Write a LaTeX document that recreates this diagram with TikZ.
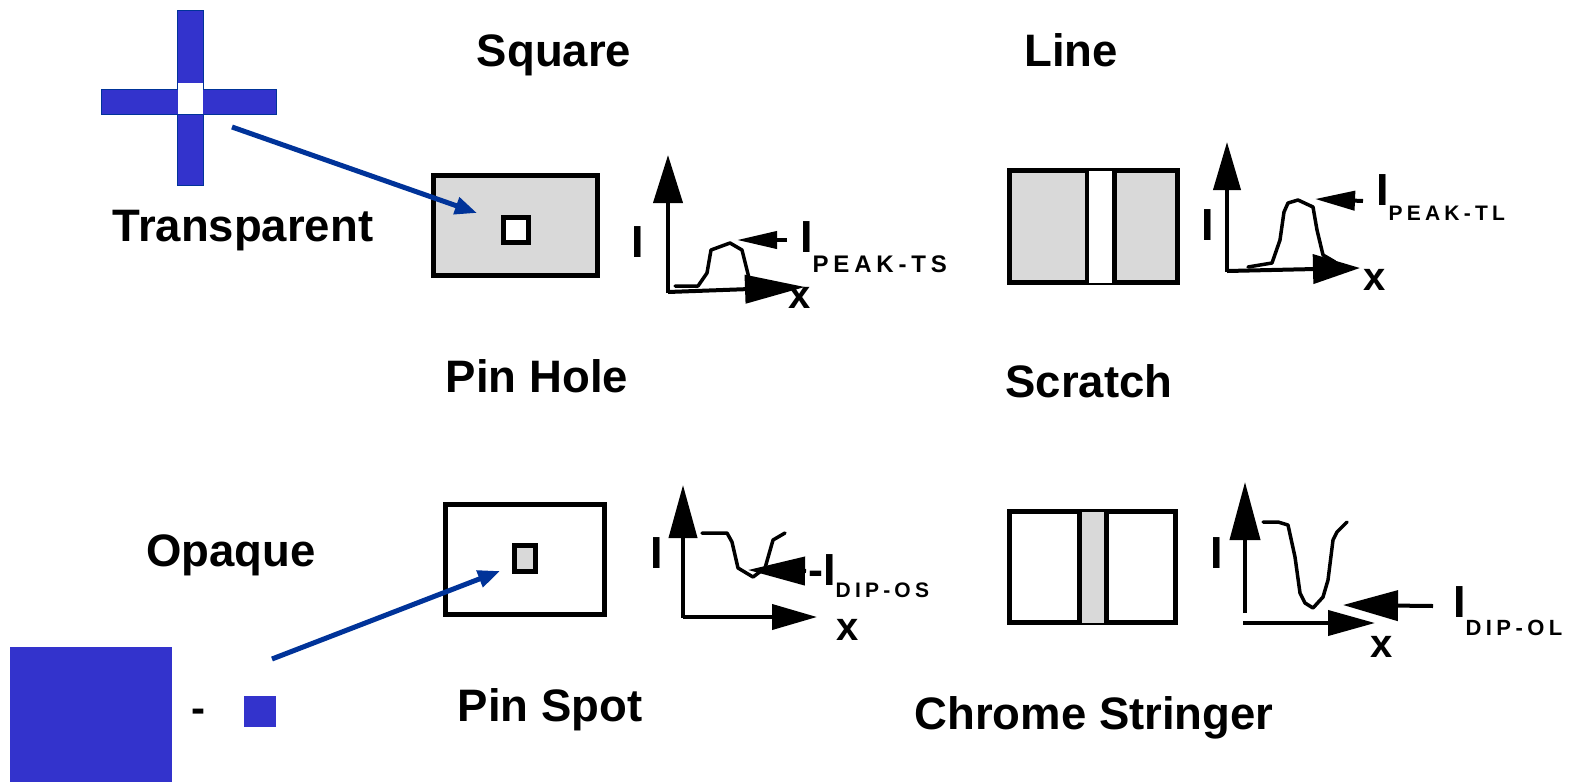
\documentclass[tikz,border=0pt]{standalone}
\usepackage{fontspec}
\setmainfont{Liberation Sans}
\newfontfamily\subfont[LetterSpace=20]{Liberation Sans}
\usetikzlibrary{arrows.meta}
\definecolor{crossblue}{HTML}{3333CC}
\definecolor{arrowblue}{HTML}{003399}
\definecolor{dotgray}{HTML}{D9D9D9}
\newcommand{\subtxt}[3]{\raisebox{-#1pt}{\fontsize{#2}{#2}\subfont\bfseries #3}}
\begin{document}
\begin{tikzpicture}[x=1pt,y=-1pt,
  title/.style={font=\fontsize{45.5}{46}\selectfont\bfseries, anchor=base, inner sep=0},
  axlabel/.style={font=\fontsize{45}{46}\selectfont\bfseries, anchor=base, inner sep=0},
  xlabel/.style={font=\fontsize{40}{40}\selectfont\bfseries, anchor=base, inner sep=0},
  intlabel/.style={font=\fontsize{45}{46}\selectfont\bfseries, anchor=base west, inner sep=0},
  axisline/.style={line width=4pt},
  curveline/.style={line width=3.5pt, line join=round, line cap=round},
  bluearrow/.style={draw=arrowblue, line width=5pt, -{Triangle[length=22pt,width=17pt]}},
  frame/.style={draw=black, line width=5pt},
  crossbar/.style={fill=crossblue, draw=arrowblue, line width=1pt},
  ]
\useasboundingbox (0,0) rectangle (1572,782);

% ---- transparent cross
\path[crossbar] (177,10) rectangle (203,185);
\path[crossbar] (101,89) rectangle (276,114);
\fill[white] (177.5,83) rectangle (202.5,114);

% ---- opaque squares
\fill[crossblue] (10,647) rectangle (172,782);
\node[font=\fontsize{42}{42}\selectfont\bfseries, anchor=base, inner sep=0] (dash) at (198,722) {-};
\fill[crossblue] (244,696) rectangle (276,727);

% ---- titles
\node[title] (tsquare) at (554,66) {Square};
\node[title] (tline) at (1071,66) {Line};
\node[title] (ttrans) at (243,241) {Transparent};
\node[title] (tpinhole) at (537,392) {Pin Hole};
\node[title] (tscratch) at (1089,397) {Scratch};
\node[title] (topaque) at (231,566) {Opaque};
\node[title] (tpinspot) at (550,721) {Pin Spot};
\node[title] (tchrome) at (1094,729) {Chrome Stringer};

% ---- square (pin hole) mask
\draw[frame, fill=dotgray] (433.5,175.5) rectangle (597.5,275.5);
\draw[line width=5pt, fill=white] (503.5,217.5) rectangle (528.5,242.5);
\coordinate (holec) at (477,213);

% ---- line (scratch) mask
\draw[frame, fill=dotgray] (1009.5,170.5) rectangle (1177.5,282.5);
\fill[white] (1087,170.5) rectangle (1114.5,282.5);
\draw[line width=4.5pt] (1087,170.5) -- (1087,282.5);
\draw[line width=4.5pt] (1114.5,170.5) -- (1114.5,282.5);

% ---- pin spot mask
\draw[frame, fill=white] (445.5,504.5) rectangle (604.5,614.5);
\draw[line width=5pt, fill=dotgray] (514.5,545.5) rectangle (535.5,571.5);
\coordinate (spotc) at (500,571);

% ---- chrome stringer mask
\draw[frame, fill=white] (1009.5,511.5) rectangle (1175.5,622.5);
\fill[dotgray] (1079.5,511.5) rectangle (1106.5,622.5);
\draw[line width=5pt] (1079.5,511.5) -- (1079.5,622.5);
\draw[line width=5pt] (1106.5,511.5) -- (1106.5,622.5);

% ---- blue pointers
\coordinate (crossend) at (232,127);
\coordinate (spotstart) at (272,659);
\draw[bluearrow] (crossend) -- (holec);
\draw[bluearrow] (spotstart) -- (spotc);

% ---- graph 1 : PEAK-TS
\coordinate (o1) at (668,293);
\draw[axisline, -{Triangle[length=48pt,width=29pt]}] (o1) -- (668,155);
\draw[axisline, -{Triangle[length=60pt,width=28pt]}] (668,292) -- (805,287);
\draw[curveline] (675,286) -- (698,286) -- (707,273) -- (711,250) -- (730,243) -- (742,250) -- (749,278);
\coordinate (pk1) at (737,240);
\draw[axisline, -{Triangle[length=40pt,width=17pt]}] (787,240) -- (pk1);
\node[axlabel] (i1) at (638,257) {I};
\node[xlabel] (x1) at (800,308) {x};
\node[intlabel] (ip1) at (800,252) {I\subtxt{20}{24}{PEAK-TS}};

% ---- graph 2 : PEAK-TL
\coordinate (o2) at (1227,272);
\draw[axisline, -{Triangle[length=48pt,width=27pt]}] (o2) -- (1227,142);
\draw[axisline, -{Triangle[length=47pt,width=29pt]}] (1227,271) -- (1360,268);
\draw[curveline] (1248,267) -- (1272,263) -- (1280,240) -- (1284,212) -- (1288,203) -- (1298,200) -- (1313,207) -- (1317,230) -- (1323,255) -- (1335,262);
\coordinate (pk2) at (1315,199);
\draw[axisline, -{Triangle[length=40pt,width=19pt]}] (1363,201) -- (pk2);
\node[axlabel] (i2) at (1208,240) {I};
\node[xlabel] (x2) at (1375,290) {x};
\node[intlabel] (ip2) at (1376,205) {I\subtxt{15}{21}{PEAK-TL}};

% ---- graph 3 : DIP-OS
\coordinate (o3) at (683,618);
\draw[axisline, -{Triangle[length=53pt,width=28pt]}] (o3) -- (683,485);
\draw[axisline, -{Triangle[length=45pt,width=25pt]}] (683,617) -- (817,617);
\draw[curveline] (702,533) -- (727,533) -- (732,542) -- (738,568) -- (753,577) -- (765,568) -- (773,540) -- (785,533);
\coordinate (dp3) at (748,570);
\draw[axisline, -{Triangle[length=57pt,width=28pt]}] (806,571) -- (dp3);
\node[axlabel] (i3) at (657,568) {I};
\node[xlabel] (x3) at (848,640) {x};
\node[intlabel] (ip3) at (808,585) {-I\subtxt{12}{21}{DIP-OS}};

% ---- graph 4 : DIP-OL
\coordinate (o4) at (1245,613);
\draw[axisline, -{Triangle[length=58pt,width=30pt]}] (o4) -- (1245,482);
\draw[axisline, -{Triangle[length=47pt,width=25pt]}] (1243,623) -- (1375,623);
\draw[curveline] (1263,522) -- (1278,522) -- (1288,525) -- (1295,557) -- (1300,593) -- (1305,603) -- (1313,608) -- (1323,597) -- (1328,580) -- (1333,540) -- (1337,532) -- (1347,522);
\coordinate (dp4) at (1343,605);
\draw[axisline, -{Triangle[length=55pt,width=30pt]}] (1433,606) -- (dp4);
\node[axlabel] (i4) at (1217,568) {I};
\node[xlabel] (x4) at (1382,657) {x};
\node[intlabel] (ip4) at (1453,617) {I\subtxt{18}{22}{DIP-OL}};
\end{tikzpicture}
\end{document}
